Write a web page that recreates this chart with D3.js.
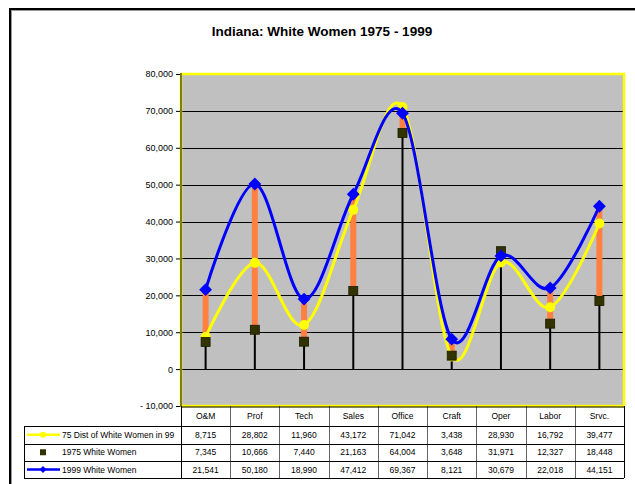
<!DOCTYPE html>
<html><head><meta charset="utf-8">
<script src="https://cdn.jsdelivr.net/npm/d3@7"></script>
<style>body{margin:0;background:#fff}svg{display:block}text{font-family:"Liberation Sans",Arial,sans-serif}</style>
</head><body><svg id="c" width="635" height="484"></svg>
<script>
const categories = ["O&M","Prof","Tech","Sales","Office","Craft","Oper","Labor","Srvc."];
const dist75 = [8715,28802,11960,43172,71042,3438,28930,16792,39477];
const women1975 = [7345,10666,7440,21163,64004,3648,31971,12327,18448];
const women1999 = [21541,50180,18990,47412,69367,8121,30679,22018,44151];
const yTicks = [-10000,0,10000,20000,30000,40000,50000,60000,70000,80000];
const seriesNames = ["75 Dist of White Women in 99","1975 White Women","1999 White Women"];
const title = "Indiana: White Women 1975 - 1999";

const svg = d3.select("#c");
const L = 181, R = 624, T = 74, B = 406;
const x = d3.scaleBand().domain(categories).range([L, R]);
const y = d3.scaleLinear().domain([-10000, 80000]).range([B, T]);
const cx = c => x(c) + x.bandwidth() / 2;
const fmt = d3.format(",");

// outer frame
svg.append("rect").attr("x", 10).attr("y", 9).attr("width", 700).attr("height", 600)
  .attr("fill", "none").attr("stroke", "#000").attr("stroke-width", 2);
svg.append("rect").attr("x", 11.5).attr("y", 10.5).attr("width", 700).attr("height", 600)
  .attr("fill", "none").attr("stroke", "#999").attr("stroke-width", 1);

// title
svg.append("text").attr("x", 322).attr("y", 36).attr("text-anchor", "middle")
  .attr("font-size", 13.5).attr("font-weight", "bold").text(title);

// plot area
svg.append("rect").attr("x", L).attr("y", T).attr("width", R - L).attr("height", B - T).attr("fill", "#C0C0C0");

// gridlines
svg.append("g").selectAll("line").data(yTicks.filter(d => d > -10000 && d < 80000)).join("line")
  .attr("x1", L).attr("x2", R).attr("y1", d => Math.round(y(d)) + 0.5).attr("y2", d => Math.round(y(d)) + 0.5)
  .attr("stroke", "#000").attr("stroke-width", 1);

// drop lines (1975 series to 0)
svg.append("g").selectAll("line").data(categories).join("line")
  .attr("x1", cx).attr("x2", cx).attr("y1", (c, i) => y(women1975[i])).attr("y2", y(0))
  .attr("stroke", "#000").attr("stroke-width", 2);

// high-low lines
svg.append("g").selectAll("line").data(categories).join("line")
  .attr("x1", cx).attr("x2", cx)
  .attr("y1", (c, i) => y(Math.max(dist75[i], women1975[i], women1999[i])))
  .attr("y2", (c, i) => y(Math.min(dist75[i], women1975[i], women1999[i])))
  .attr("stroke", "#FF8040").attr("stroke-width", 6);

const line = vals => d3.line().x((d, i) => cx(categories[i])).y(d => y(d)).curve(d3.curveCardinal.tension(0))(vals);

// yellow series
svg.append("path").attr("d", line(dist75)).attr("fill", "none").attr("stroke", "#FFFF00").attr("stroke-width", 3);
svg.append("g").selectAll("circle").data(dist75).join("circle")
  .attr("cx", (d, i) => cx(categories[i])).attr("cy", d => y(d)).attr("r", 5).attr("fill", "#FFFF00");

// 1975 squares
svg.append("g").selectAll("rect").data(women1975).join("rect")
  .attr("x", (d, i) => cx(categories[i]) - 4.5).attr("y", d => y(d) - 4.5).attr("width", 9).attr("height", 9)
  .attr("fill", "#333300").attr("stroke", "#1a1a00").attr("stroke-width", 0.8);

// blue series
svg.append("path").attr("d", line(women1999)).attr("fill", "none").attr("stroke", "#0000FF").attr("stroke-width", 3);
svg.append("g").selectAll("path").data(women1999).join("path")
  .attr("d", d3.symbol().type(d3.symbolDiamond2).size(105))
  .attr("transform", (d, i) => `translate(${cx(categories[i])},${y(d)})`)
  .attr("fill", "#0000FF");

// plot border
svg.append("rect").attr("x", L).attr("y", T).attr("width", R - L).attr("height", B - T)
  .attr("fill", "none").attr("stroke", "#FFFF00").attr("stroke-width", 2.5);
svg.append("line").attr("x1", L).attr("x2", L).attr("y1", T - 1).attr("y2", B + 1)
  .attr("stroke", "#808000").attr("stroke-width", 2);

// y axis
const ya = d3.axisLeft(y).tickValues(yTicks).tickSize(4).tickPadding(3)
  .tickFormat(d => d < 0 ? "- " + fmt(-d) : fmt(d));
const yg = svg.append("g").attr("transform", `translate(${L - 1},0)`).call(ya);
yg.select(".domain").remove();
yg.selectAll(".tick line").attr("stroke", "#000");
yg.selectAll("text").attr("font-size", 9).attr("font-family", "Liberation Sans, Arial, sans-serif").attr("fill", "#000");

// data table
const rowsY = [426, 443.5, 461, 478];
const tbl = svg.append("g");
const bounds = d3.range(categories.length + 1).map(i => L + i * x.bandwidth());
tbl.selectAll("text.h").data(categories).join("text")
  .attr("x", cx).attr("y", (B + rowsY[0]) / 2 + 3).attr("text-anchor", "middle").attr("font-size", 8.5).text(d => d);
tbl.selectAll("line.v").data(bounds).join("line")
  .attr("x1", d => Math.round(d) + 0.5).attr("x2", d => Math.round(d) + 0.5).attr("y1", B).attr("y2", rowsY[3])
  .attr("stroke", (d, i) => (i === 0 || i === bounds.length - 1) ? "#000" : "#666").attr("stroke-width", 1);
rowsY.forEach(ry => {
  tbl.append("line").attr("x1", 24).attr("x2", R).attr("y1", Math.round(ry) + 0.5).attr("y2", Math.round(ry) + 0.5)
    .attr("stroke", "#000").attr("stroke-width", 1);
});
tbl.append("line").attr("x1", 24.5).attr("x2", 24.5).attr("y1", rowsY[0]).attr("y2", rowsY[3]).attr("stroke", "#000");
tbl.append("line").attr("x1", L).attr("x2", R).attr("y1", B + 1).attr("y2", B + 1).attr("stroke", "#000");

const allSeries = [dist75, women1975, women1999];
allSeries.forEach((vals, r) => {
  const ym = (rowsY[r] + rowsY[r + 1]) / 2 + 3;
  tbl.append("g").selectAll("text").data(vals).join("text")
    .attr("x", (d, i) => cx(categories[i])).attr("y", ym).attr("text-anchor", "middle").attr("font-size", 8.5).text(d => fmt(d));
  tbl.append("text").attr("x", 62).attr("y", ym).attr("font-size", 8.5).text(seriesNames[r]);
  const my = (rowsY[r] + rowsY[r + 1]) / 2;
  if (r === 0) {
    tbl.append("line").attr("x1", 27).attr("x2", 60).attr("y1", my).attr("y2", my).attr("stroke", "#FFFF00").attr("stroke-width", 2.5);
    tbl.append("circle").attr("cx", 43).attr("cy", my).attr("r", 3).attr("fill", "#FFFF00");
  } else if (r === 1) {
    tbl.append("rect").attr("x", 40).attr("y", my - 3).attr("width", 6).attr("height", 6).attr("fill", "#333300");
  } else {
    tbl.append("line").attr("x1", 27).attr("x2", 60).attr("y1", my).attr("y2", my).attr("stroke", "#0000FF").attr("stroke-width", 2.5);
    tbl.append("path").attr("d", d3.symbol().type(d3.symbolDiamond2).size(30)).attr("transform", `translate(43,${my})`).attr("fill", "#0000FF");
  }
});
</script></body></html>
